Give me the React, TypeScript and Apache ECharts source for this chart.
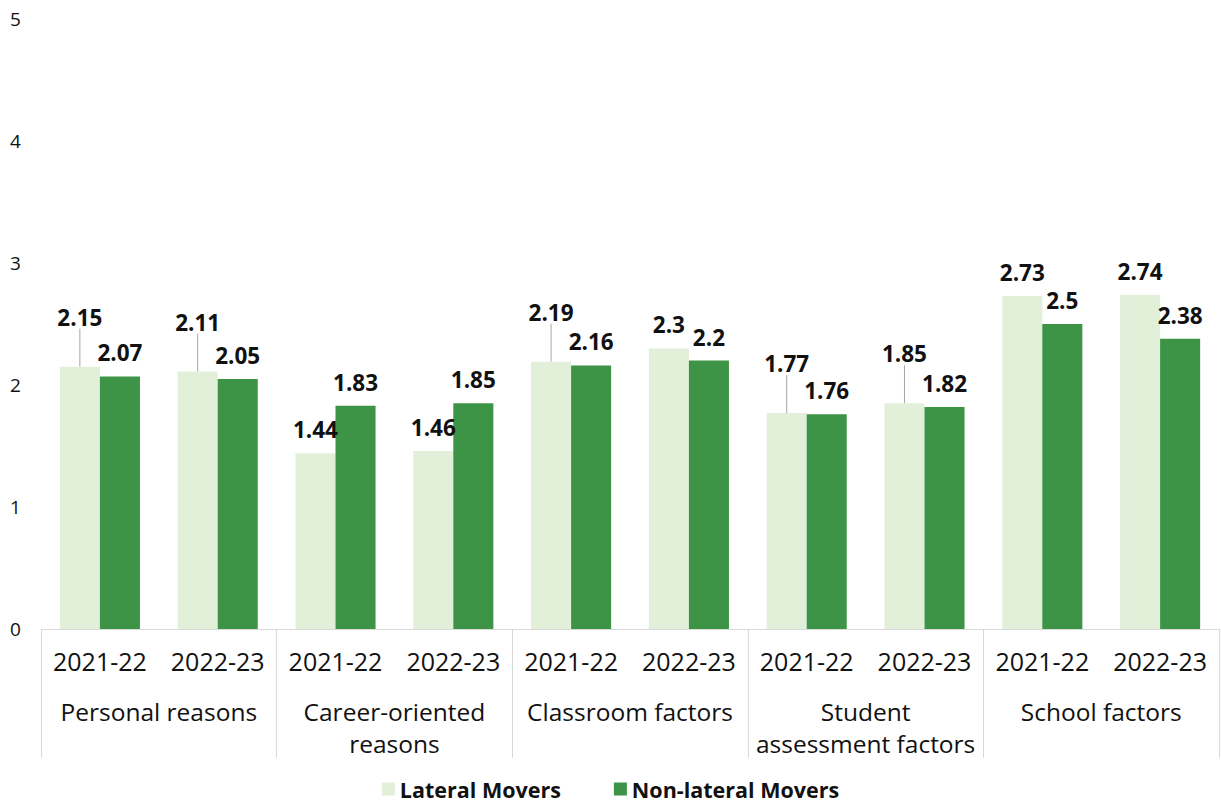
import React, { useEffect, useRef } from "react";
import * as echarts from "echarts";

const years = ["2021-22", "2022-23", "2021-22", "2022-23", "2021-22", "2022-23", "2021-22", "2022-23", "2021-22", "2022-23"];
const groups = ["Personal reasons", "Career-oriented\nreasons", "Classroom factors", "Student\nassessment factors", "School factors"];
const lateral = [2.15, 2.11, 1.44, 1.46, 2.19, 2.3, 1.77, 1.85, 2.73, 2.74];
const nonLateral = [2.07, 2.05, 1.83, 1.85, 2.16, 2.2, 1.76, 1.82, 2.5, 2.38];
const leaderIdx = [0, 1, 4, 6, 7];
const yTicks = [0, 1, 2, 3, 4, 5];

const FONT = "'Open Sans', sans-serif";

export default function App() {
  const ref = useRef<HTMLDivElement>(null);
  useEffect(() => {
    document.body.style.margin = "0";
    const chart = echarts.init(ref.current!, null, { renderer: "svg" });
    const labelBase = {
      show: true,
      position: "top",
      distance: 12,
      fontFamily: FONT,
      fontWeight: "bold",
      fontSize: 22.5,
      color: "#111",
    };
    chart.setOption({
      animation: false,
      textStyle: { fontFamily: FONT },
      grid: { left: 41, right: 2, top: 19, bottom: 177, containLabel: false },
      legend: {
        top: 776,
        left: "center",
        padding: [2, 5, 2, 5],
        icon: "rect",
        itemWidth: 13,
        itemHeight: 13,
        itemGap: 53,
        textStyle: { fontFamily: FONT, fontWeight: "bold", fontSize: 21.5, color: "#111" },
        data: ["Lateral Movers", "Non-lateral Movers"],
      },
      xAxis: [
        {
          type: "category",
          data: years,
          position: "bottom",
          axisLine: { show: true, lineStyle: { color: "#d9d9d9", width: 1 } },
          axisTick: { show: false },
          axisLabel: { fontFamily: FONT, fontSize: 25, color: "#111", margin: 19, interval: 0 },
        },
        {
          type: "category",
          data: groups,
          position: "bottom",
          offset: 0,
          axisLine: { show: false },
          axisTick: { show: true, interval: 0, length: 129, lineStyle: { color: "#d9d9d9", width: 1 } },
          axisLabel: { fontFamily: FONT, fontSize: 24.5, color: "#111", margin: 66, lineHeight: 32, interval: 0 },
        },
      ],
      yAxis: {
        type: "value",
        min: 0,
        max: 5,
        interval: 1,
        axisLine: { show: false },
        axisTick: { show: false },
        splitLine: { show: false },
        axisLabel: {
          fontFamily: FONT,
          fontSize: 19,
          color: "#111",
          margin: 31,
          align: "left",
          formatter: (v: number) => (yTicks.includes(v) ? String(v) : ""),
        },
      },
      series: [
        {
          name: "Lateral Movers",
          type: "bar",
          xAxisIndex: 0,
          barGap: "0%",
          barCategoryGap: "32%",
          itemStyle: { color: "#e2efd9" },
          label: labelBase,
          labelLayout: (p: any) => (leaderIdx.includes(p.dataIndex) ? { dy: -26 } : {}),
          data: lateral.map((v, i) =>
            leaderIdx.includes(i)
              ? { value: v, labelLine: { show: true, lineStyle: { color: "#a6a6a6", width: 1 } } }
              : { value: v }
          ),
        },
        {
          name: "Non-lateral Movers",
          type: "bar",
          xAxisIndex: 0,
          barGap: "0%",
          barCategoryGap: "32%",
          itemStyle: { color: "#3d9446" },
          label: labelBase,
          data: nonLateral,
        },
      ],
    });
    return () => chart.dispose();
  }, []);
  return <div ref={ref} style={{ width: 1221, height: 806 }} />;
}
